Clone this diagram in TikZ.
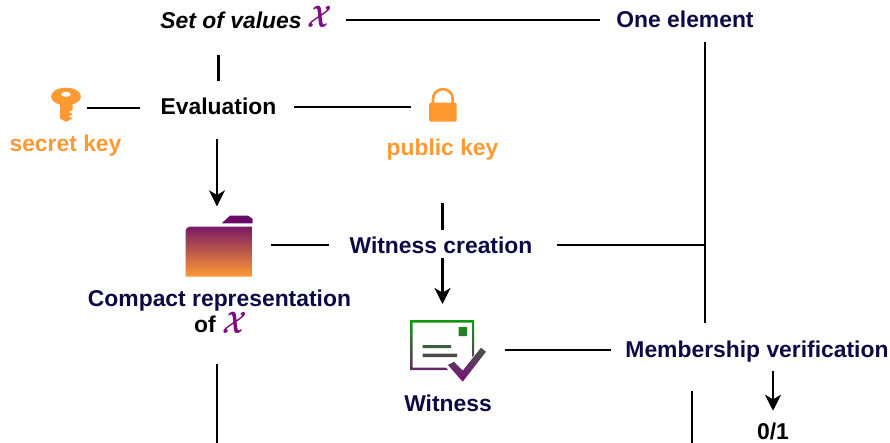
\documentclass[tikz,border=0pt]{standalone}
\usepackage{amsmath}
\usepackage{fontspec}
\setmainfont{Liberation Sans}
\usetikzlibrary{arrows.meta}
\definecolor{navy}{HTML}{0B0A45}
\definecolor{keyorange}{HTML}{FF9A33}
\definecolor{plum}{HTML}{800A80}
\definecolor{deep}{HTML}{6A0A66}
\definecolor{foldertop}{HTML}{7A1A62}
\definecolor{stampgreen}{HTML}{0F9A0F}
\tikzset{
  x=0.75pt, y=-0.75pt,
  lab/.style={font=\fontsize{17.15}{20}\selectfont\bfseries, inner sep=0pt, text height=12.5pt, text depth=2pt, anchor=center},
  navylab/.style={lab, text=navy},
  keylab/.style={lab, text=keyorange},
  xsym/.style={inner sep=0pt, minimum width=18pt, text height=11pt, text depth=1pt},
  icon/.style={inner sep=0pt, outer sep=0pt, draw=none},
  link/.style={draw=black, line width=1.9pt},
  arrowlink/.style={link, -{Stealth[length=12pt,width=12pt,inset=3.5pt]}},
}
\newcommand{\calX}{\fontsize{20}{20}\selectfont\textcolor{plum}{\scalebox{0.92}[1.12]{\ensuremath{\boldsymbol{\mathcal{X}}}}}}
\begin{document}
\begin{tikzpicture}
\useasboundingbox (0,0) rectangle (890,443);
% text nodes
\node[lab] (set) at (231,21) {\textit{Set of values}};
\node[xsym] (setx) at (319.5,21) {\calX};
\node[navylab] (one) at (685,20) {One element};
\node[lab] (eval) at (218.5,107) {Evaluation};
\node[keylab] (skey) at (65.5,144) {secret key};
\node[keylab] (pkey) at (442.5,148) {public key};
\node[navylab] (wc) at (441,246) {Witness creation};
\node[navylab] (crep) at (219.5,299) {Compact representation};
\node[lab] (of) at (205,325) {of};
\node[xsym] (ofx) at (234.5,327) {\calX};
\node[navylab] (wit) at (448,404) {Witness};
\node[navylab] (mv) at (757,350) {Membership verification};
\node[lab] (res) at (773,432) {0/1};
% icon nodes
\node[icon, minimum width=30pt, minimum height=1pt] (keyic) at (66,108) {};
\node[icon, minimum width=30pt, minimum height=1pt] (lockic) at (443,107) {};
\node[icon, minimum width=51pt, minimum height=46pt] (folder) at (219,245) {};
\node[icon, minimum width=57pt, minimum height=46pt] (witic) at (448,350) {};
\coordinate (bl) at (217,443);
\coordinate (br) at (692,443);
\coordinate (jn) at (705,245);
% key
\fill[keyorange] (66,96.5) ellipse (15 and 8.8);
\fill[white] (66,94.3) ellipse (4.8 and 2.5);
\fill[keyorange] (60,100) -- (72.7,100) -- (72.7,110) -- (68.5,112) -- (72.7,114) -- (68.5,116.5) -- (72.7,118.5) -- (66,121.8) -- (60,118.5) -- cycle;
% lock
\fill[keyorange, rounded corners=1.2pt] (429,102.7) rectangle (456.7,121.7);
\draw[keyorange, line width=2pt] (433,103) -- (433,99) arc[start angle=180,end angle=0,x radius=9.9,y radius=-9.9] -- (452.8,103);
% folder
\shade[top color=foldertop, bottom color=keyorange] (185.7,276.7) {[rounded corners=3pt] -- (185.7,226.7) -- (195,226.7)} -- (252.7,226.7) -- (252.7,276.7) -- cycle;
\fill[deep] (221.7,223.3) -- (230,215.7) -- (248,215.7) -- (252.7,219) -- (252.7,223.3) -- cycle;
% witness
\shade[top color=stampgreen, bottom color=plum, even odd rule]
  (410,320) -- (474,320) -- (474,355) -- (472,357) -- (472,322.5) -- (412.5,322.5) -- (412.5,367.5) -- (446,367.5) -- (448,370) -- (410,370) -- cycle
  (458.5,327) rectangle (467,336)
  (422.5,345) rectangle (451,348)
  (422.5,353.5) rectangle (457,357)
  (448,365) -- (454,361.7) -- (462.7,370.7) -- (481,347.7) -- (486,351.7) -- (462.7,381.7) -- cycle;
% connectors
\draw[link, shorten <=18.2pt, shorten >=12.25pt] (eval.north |- set.south) -- (eval.north);
\draw[link, shorten <=0.75pt, shorten >=15pt] (keyic.east) -- (keyic.east -| eval.west);
\draw[link, shorten <=12.75pt, shorten >=9pt] (eval.east) -- (lockic.west);
\draw[arrowlink, shorten <=16.75pt, shorten >=6pt] (eval.south -| bl) -- (folder.north -| bl);
\draw[link, shorten <=10.5pt, shorten >=12pt] (setx.east |- one.west) -- (one.west);
\draw[link, shorten <=9.25pt, shorten >=13pt] (one.south -| jn) -- (mv.north -| jn);
\draw[link, shorten <=13.5pt, shorten >=15.4pt] (folder.east) -- (folder.east -| wc.west);
\draw[link, shorten <=18.4pt] (jn -| wc.east) -- (jn);
\draw[link, shorten <=34pt, shorten >=4.75pt] (pkey.south) -- (pkey.south |- wc.north);
\draw[arrowlink, shorten <=1.75pt, shorten >=11.5pt] (wc.south -| pkey.south) -- (witic.north -| pkey.south);
\draw[link, shorten <=14.25pt, shorten >=10.5pt] (witic.east) -- (mv.west);
\draw[arrowlink, shorten <=8.5pt, shorten >=8.5pt] (mv.south -| res.north) -- (res.north);
\draw[link, shorten <=23.5pt] (mv.south -| br) -- (br);
\draw[link, shorten <=41.5pt] (crep.south -| bl) -- (bl);
\end{tikzpicture}
\end{document}
